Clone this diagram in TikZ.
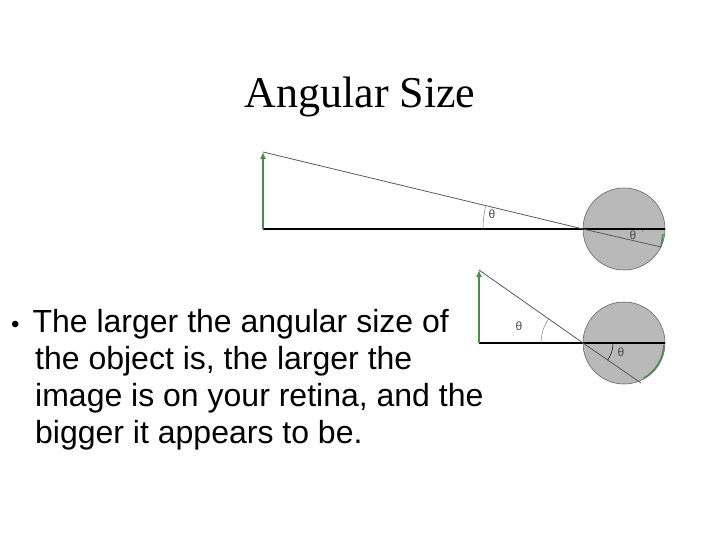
\documentclass[tikz,border=0pt]{standalone}
\usepackage{fontspec}
\setmainfont{Liberation Serif}
\newfontfamily\arialf{Liberation Sans}
\usetikzlibrary{arrows.meta}
\begin{document}
\begin{tikzpicture}[x=1pt,y=-1pt,
  obj/.style={draw=green!35!black!70,line width=2.2pt,-{Latex[length=7pt,width=6pt]}},
  axis/.style={draw=black,line width=1.6pt},
  ray/.style={draw=gray!70!black,line width=0.8pt},
  eye/.style={draw=gray!80!black,fill=gray!55,line width=0.6pt},
  th/.style={font=\arialf\fontsize{12}{12}\selectfont,text=gray!60!black,inner sep=0pt}]
\path[use as bounding box] (0,0) rectangle (720,540);
\node[font=\fontsize{44}{48}\selectfont] (title) at (360,97) {Angular Size};
% top diagram
\node[eye,circle,minimum size=82pt,inner sep=0pt] (e1) at (624,229) {};
\coordinate (b1) at (263,229);
\coordinate (t1) at (263,152);
\coordinate (r1) at (665,229);
\coordinate (x1) at (583,229);
\coordinate (q1) at (661,247);
\draw[axis] (b1) -- (r1);
\draw[ray] (t1) -- (x1) -- (q1);
\draw[obj] (b1) -- (t1);
\draw[green!35!black!70,line width=1.5pt] (663,234) -- (661,247);
\draw[gray,line width=0.5pt] (483,229) arc[start angle=180,end angle=193,radius=100];
\node[th] (th1) at (492,214) {θ};
\node[th] (th1b) at (633,235) {θ};
\draw[gray!60!black,line width=0.5pt] (643,229) arc[start angle=0,end angle=15,radius=10];
% bottom diagram
\node[eye,circle,minimum size=82pt,inner sep=0pt] (e2) at (624,343) {};
\coordinate (b2) at (479,343);
\coordinate (t2) at (479,270);
\coordinate (r2) at (665,343);
\coordinate (x2) at (583,343);
\coordinate (q2) at (641,383);
\draw[axis] (b2) -- (r2);
\draw[ray] (t2) -- (x2) -- (q2);
\draw[obj] (b2) -- (t2);
\draw[green!35!black!70,line width=1.5pt] (664,345) arc[start angle=3,end angle=60,radius=41];
\draw[gray,line width=0.5pt] (541,343) arc[start angle=180,end angle=215,radius=42];
\node[th] (th2) at (519,326) {θ};
\node[th] (th2b) at (621,352) {θ};
\draw[black,line width=0.5pt] (613,343) arc[start angle=0,end angle=35,radius=30];
% text
\node[anchor=north west,font=\arialf\fontsize{32}{37}\selectfont,align=left,inner sep=0pt] (txt) at (11,309)
 {{\fontsize{24}{24}\selectfont•}\hspace{13pt}The larger the angular size of\\\hspace{24pt}the object is, the larger the\\\hspace{24pt}image is on your retina, and the\\\hspace{24pt}bigger it appears to be.};
\end{tikzpicture}
\end{document}
